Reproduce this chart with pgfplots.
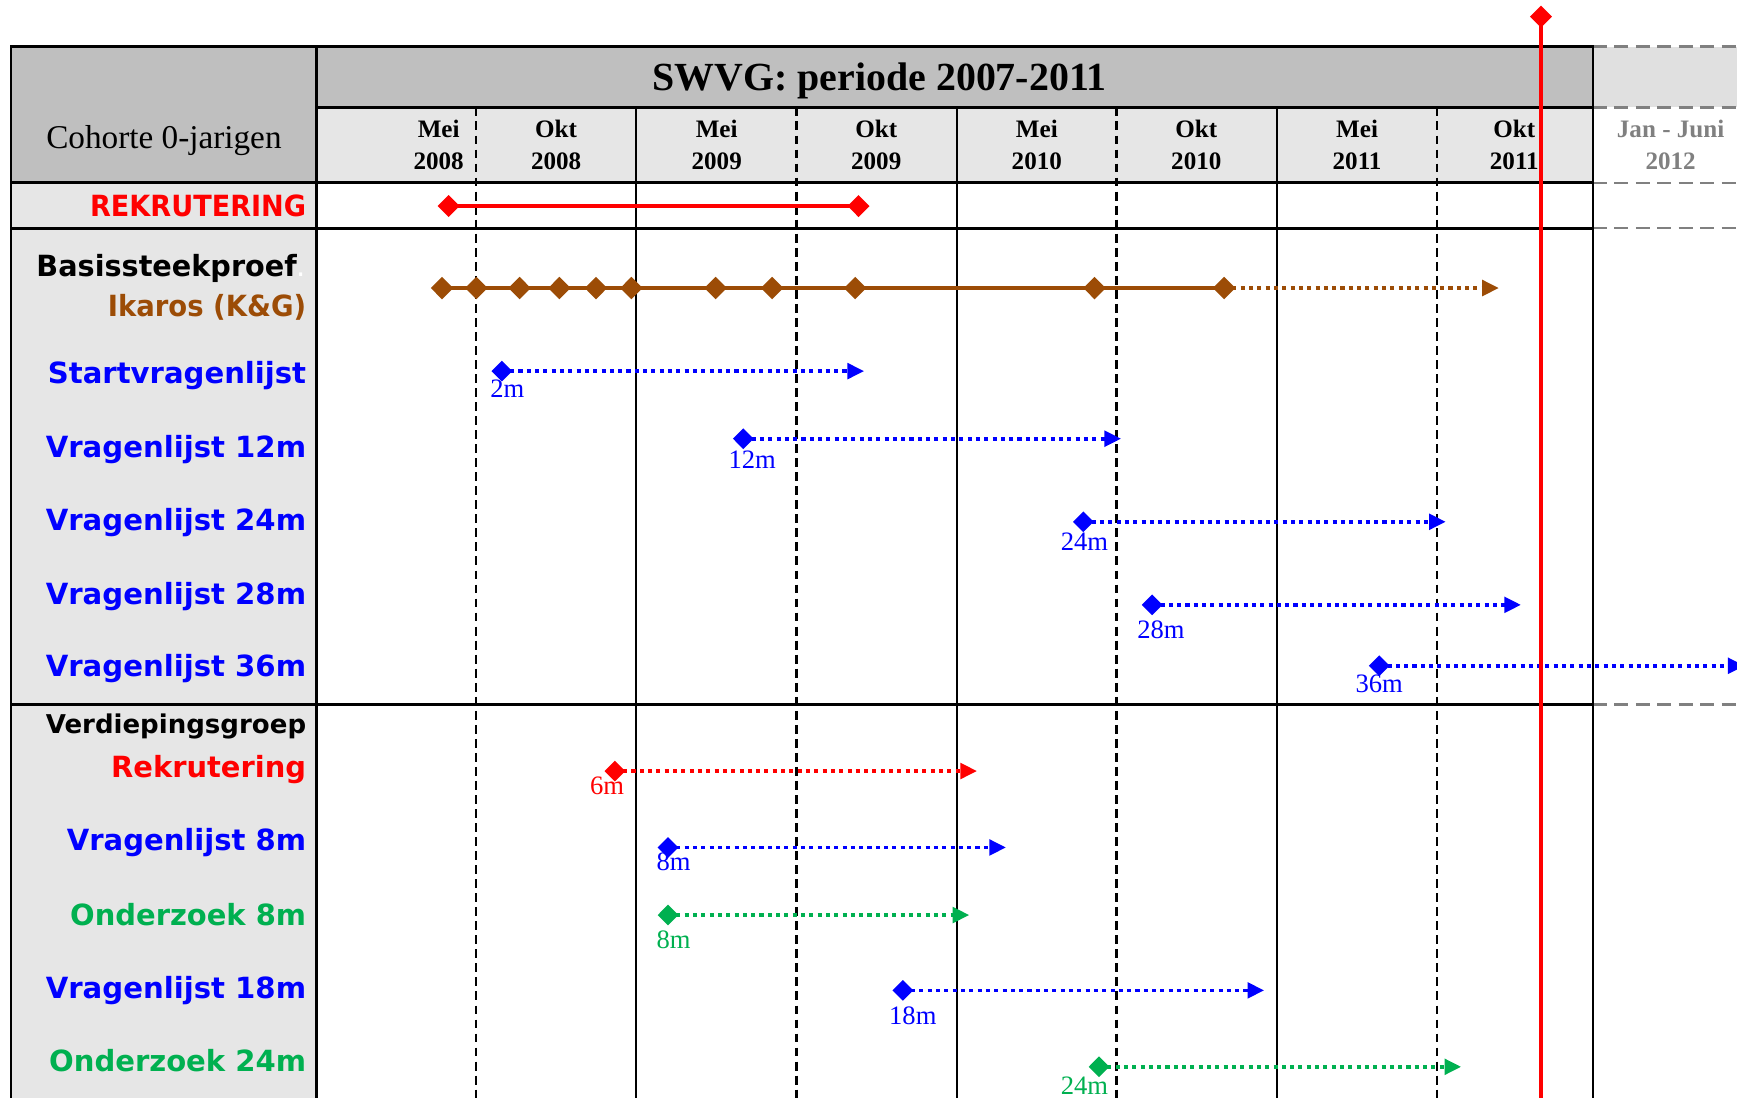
\documentclass[border=0pt]{standalone}
\usepackage{pgfplots}
\pgfplotsset{compat=1.18}
\usepackage{graphicx}
\usepackage{fontspec}
\setmainfont{Liberation Serif}
\newfontfamily\dv{DejaVu Sans}
\usetikzlibrary{arrows.meta}

\definecolor{cred}{RGB}{255,0,0}
\definecolor{cbrown}{RGB}{156,76,6}
\definecolor{cblue}{RGB}{0,0,255}
\definecolor{cgreen}{RGB}{0,176,80}
\definecolor{hdark}{RGB}{191,191,191}
\definecolor{hlight}{RGB}{230,230,230}
\definecolor{hext}{RGB}{224,224,224}
\definecolor{gtext}{RGB}{128,128,128}

% row label: [size] width (pt), colour, text
\newcommand{\lab}[4][7.9]{\resizebox{#2pt}{\height}{\fontsize{#1}{9}\dv\bfseries\color{#3}#4}}

\pgfplotsset{
  startm/.style={mark=diamond*, mark size=2.1pt, mark options={solid, xscale=1.33}, mark indices={1}},
  dotl/.style={line width=1.0pt, dash pattern=on 1.1pt off 1.15pt, -{Triangle[length=4.5pt,width=4.2pt]}},
}

\begin{document}
\begin{tikzpicture}
\begin{axis}[
  width=470.4pt, height=297.3pt, scale only axis,
  xmin=-11.9167, xmax=53.4167, ymin=0, ymax=991, y dir=reverse,
  axis lines=none, clip=true,
]
% ---------- table background ----------
\fill[hdark] (-11.5,42) rectangle (0,165);
\fill[hdark] (0,42) rectangle (48,97);
\fill[hlight] (0,97) rectangle (48,165);
\fill[hlight] (-11.5,165) rectangle (0,1000);
\fill[hext] (48,42) rectangle (53.6,97);
% grey dashed extension
\draw[gtext, line width=0.65pt, dash pattern=on 3.8pt off 2pt] (48,42)--(53.6,42);
\draw[gtext, line width=0.65pt, dash pattern=on 3.8pt off 2pt] (48,97)--(53.6,97);
\draw[gtext, line width=0.65pt, dash pattern=on 3.8pt off 2pt] (48,165)--(53.6,165);
\draw[gtext, line width=0.65pt, dash pattern=on 3.8pt off 2pt] (48,206)--(53.6,206);
\draw[gtext, line width=0.65pt, dash pattern=on 3.8pt off 2pt] (48,636)--(53.6,636);
% month separators
\draw[line width=0.6pt, dash pattern=on 2.4pt off 1.4pt] (6,97)--(6,1000);
\draw[line width=0.6pt, dash pattern=on 2.4pt off 1.4pt] (18.04,97)--(18.04,1000);
\draw[line width=0.6pt, dash pattern=on 2.4pt off 1.4pt] (30.08,97)--(30.08,1000);
\draw[line width=0.6pt, dash pattern=on 2.4pt off 1.4pt] (42.125,97)--(42.125,1000);
\draw[line width=0.6pt] (12,97)--(12,1000);
\draw[line width=0.6pt] (24.08,97)--(24.08,1000);
\draw[line width=0.6pt] (36.125,97)--(36.125,1000);
% borders
\draw[line width=0.75pt] (-11.5,1000)--(-11.5,42)--(48,42)--(48,1000);
\draw[line width=0.75pt] (0,42)--(0,1000);
\draw[line width=0.75pt] (0,97)--(48,97);
\draw[line width=0.75pt] (-11.5,165)--(48,165);
\draw[line width=0.75pt] (-11.5,206)--(48,206);
\draw[line width=0.75pt] (-11.5,636)--(48,636);

% ---------- header text ----------
\node[anchor=base, inner sep=0, font=\fontsize{10.8}{13}\selectfont\bfseries] at (21.17,82) {SWVG: periode 2007-2011};
\node[anchor=base, inner sep=0, font=\fontsize{9}{11}\selectfont] at (-5.75,134) {Cohorte 0-jarigen};
\pgfplotsinvokeforeach{{4.583/Mei/2008},{9.0/Okt/2008},{15.04/Mei/2009},{21.04/Okt/2009},{27.08/Mei/2010},{33.08/Okt/2010},{39.125/Mei/2011},{45.04/Okt/2011}}{
  \pgfplotsextra{\foreach \xx/\mm/\yy in {#1}{
    \node[anchor=base, inner sep=0, font=\fontsize{6.8}{8}\selectfont\bfseries] at (axis cs:\xx,124) {\mm};
    \node[anchor=base, inner sep=0, font=\fontsize{6.8}{8}\selectfont\bfseries] at (axis cs:\xx,153) {\yy};
  }}
}
\node[anchor=base, inner sep=0, text=gtext, font=\fontsize{6.8}{8}\selectfont\bfseries] at (50.92,124) {Jan - Juni};
\node[anchor=base, inner sep=0, text=gtext, font=\fontsize{6.8}{8}\selectfont\bfseries] at (50.92,153) {2012};

% ---------- row labels ----------
\node[anchor=base east, inner sep=0] at (-0.375,195) {\lab{58.5}{cred}{REKRUTERING}};
\node[anchor=base east, inner sep=0] at (-0.375,250) {\lab{70.5}{black}{Basissteekproef}\textcolor{white}{\dv\fontsize{7.9}{9}\selectfont .}};
\node[anchor=base east, inner sep=0] at (-0.375,286) {\lab{53.7}{cbrown}{Ikaros (K\&G)}};
\node[anchor=base east, inner sep=0] at (-0.375,346) {\lab{69.9}{cblue}{Startvragenlijst}};
\node[anchor=base east, inner sep=0] at (-0.375,413) {\lab{70.5}{cblue}{Vragenlijst 12m}};
\node[anchor=base east, inner sep=0] at (-0.375,479) {\lab{70.5}{cblue}{Vragenlijst 24m}};
\node[anchor=base east, inner sep=0] at (-0.375,546) {\lab{70.5}{cblue}{Vragenlijst 28m}};
\node[anchor=base east, inner sep=0] at (-0.375,611) {\lab{70.5}{cblue}{Vragenlijst 36m}};
\node[anchor=base east, inner sep=0] at (-0.375,662) {\lab[7.0]{70.5}{black}{Verdiepingsgroep}};
\node[anchor=base east, inner sep=0] at (-0.375,702) {\lab{52.8}{cred}{Rekrutering}};
\node[anchor=base east, inner sep=0] at (-0.375,768) {\lab{64.8}{cblue}{Vragenlijst 8m}};
\node[anchor=base east, inner sep=0] at (-0.375,835) {\lab{63.9}{cgreen}{Onderzoek 8m}};
\node[anchor=base east, inner sep=0] at (-0.375,901) {\lab{70.5}{cblue}{Vragenlijst 18m}};
\node[anchor=base east, inner sep=0] at (-0.375,967) {\lab{69.6}{cgreen}{Onderzoek 24m}};

% ---------- data (x in months from chart start, y row position) ----------
\addplot[cred, line width=1.1pt, mark=diamond*, mark size=2.2pt, mark options={xscale=1.33}] coordinates {(4.958,186) (20.375,186)};

\addplot[cbrown, dotl] coordinates {(34.125,260) (44.458,260)};
\addplot[cbrown, line width=1.05pt, mark=diamond*, mark size=2.3pt, mark options={xscale=1.33}] coordinates {
 (4.708,260) (6,260) (7.625,260) (9.125,260) (10.5,260) (11.833,260) (15,260) (17.125,260) (20.25,260) (29.25,260) (34.125,260)};

\addplot[cblue, dotl, startm] coordinates {(6.958,335) (20.583,335)};
\addplot[cblue, dotl, startm] coordinates {(16.04,396) (30.25,396)};
\addplot[cblue, dotl, startm] coordinates {(28.83,471) (42.46,471)};
\addplot[cblue, dotl, startm] coordinates {(31.42,546) (45.29,546)};
\addplot[cblue, dotl, startm] coordinates {(39.96,601) (53.7,601)};

\addplot[cred, dotl, startm] coordinates {(11.21,696) (24.83,696)};
\addplot[cblue, dotl, startm] coordinates {(13.21,765) (25.92,765)};
\addplot[cgreen, dotl, startm] coordinates {(13.21,826) (24.54,826)};
\addplot[cblue, dotl, startm] coordinates {(22.04,894) (35.63,894)};
\addplot[cgreen, dotl, startm] coordinates {(29.42,963) (43.04,963)};

% data labels
\node[anchor=base, inner sep=0, text=cblue, font=\fontsize{7.2}{8}\selectfont] at (7.167,359) {2m};
\node[anchor=base, inner sep=0, text=cblue, font=\fontsize{7.2}{8}\selectfont] at (16.375,423) {12m};
\node[anchor=base, inner sep=0, text=cblue, font=\fontsize{7.2}{8}\selectfont] at (28.875,497) {24m};
\node[anchor=base, inner sep=0, text=cblue, font=\fontsize{7.2}{8}\selectfont] at (31.75,576) {28m};
\node[anchor=base, inner sep=0, text=cblue, font=\fontsize{7.2}{8}\selectfont] at (39.96,625) {36m};
\node[anchor=base, inner sep=0, text=cred, font=\fontsize{7.2}{8}\selectfont] at (10.917,717) {6m};
\node[anchor=base, inner sep=0, text=cblue, font=\fontsize{7.2}{8}\selectfont] at (13.417,786) {8m};
\node[anchor=base, inner sep=0, text=cgreen, font=\fontsize{7.2}{8}\selectfont] at (13.417,856) {8m};
\node[anchor=base, inner sep=0, text=cblue, font=\fontsize{7.2}{8}\selectfont] at (22.417,925) {18m};
\node[anchor=base, inner sep=0, text=cgreen, font=\fontsize{7.2}{8}\selectfont] at (28.875,988) {24m};

% current date line
\addplot[cred, line width=1.25pt, mark=diamond*, mark size=2.1pt, mark options={xscale=1.33}, mark indices={1}] coordinates {(46.04,15) (46.04,1000)};
\end{axis}
\pgfresetboundingbox
\path (current axis.south west) rectangle (current axis.north east);
\end{tikzpicture}
\end{document}
